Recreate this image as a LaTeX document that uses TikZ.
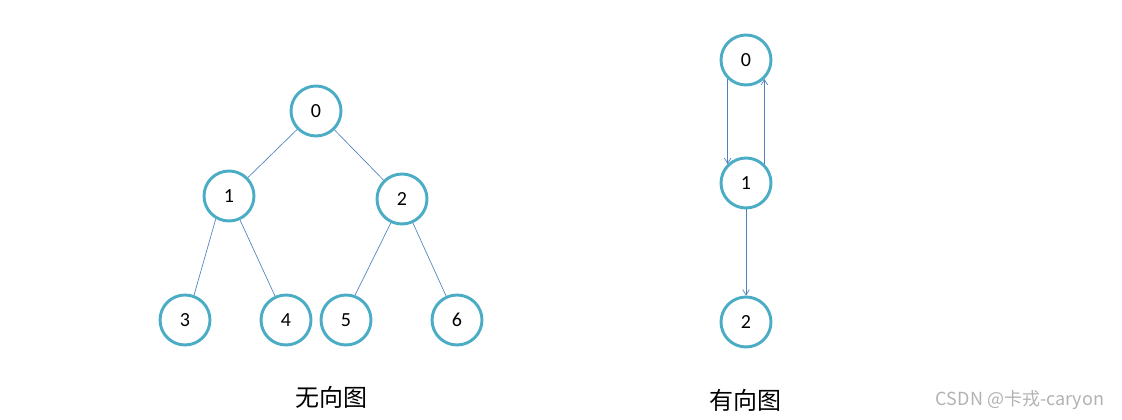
\documentclass[tikz,border=0pt]{standalone}
\usepackage{fontspec}
\setmainfont{Carlito}
\newfontfamily\cjk{Noto Sans CJK SC}
\usetikzlibrary{arrows.meta}
\definecolor{ring}{RGB}{75,172,198}
\definecolor{edge}{RGB}{79,129,189}
\begin{document}
\begin{tikzpicture}[x=0.75pt,y=-0.75pt,
 v/.style={circle,draw=ring,line width=2.2pt,minimum size=50*0.75pt,inner sep=0pt,font=\fontsize{15}{15}\selectfont},
 e/.style={draw=edge,line width=0.5pt},
 a/.style={e,-{Straight Barb[length=4pt,width=5pt]}}]
\useasboundingbox (0,0) rectangle (1122,420);
\node[v] (a0) at (316,111) {0};
\node[v] (a1) at (229,196) {1};
\node[v] (a2) at (402,199) {2};
\node[v] (a3) at (185,320) {3};
\node[v] (a4) at (286,320) {4};
\node[v] (a5) at (346,320) {5};
\node[v] (a6) at (457,320) {6};
\draw[e] (a0)--(a1); \draw[e] (a0)--(a2);
\draw[e] (a1.240)--(a3.70); \draw[e] (a1)--(a4);
\draw[e] (a2.245)--(a5.70); \draw[e] (a2)--(a6);
\node[v] (b0) at (746,60) {0};
\node[v] (b1) at (746,183) {1};
\node[v] (b2) at (746,322) {2};
\draw[a] (b0.226)--(b1.134);
\draw[a] (b1.46)--(b0.314);
\draw[a] (b1)--(b2);
\node[font=\cjk\fontsize{18}{18}\selectfont] (t1) at (331,397) {无向图};
\node[font=\cjk\fontsize{18}{18}\selectfont] (t2) at (745,400) {有向图};
\node[font=\cjk\fontsize{13.5}{13.5}\selectfont,text=black!30] (w) at (1020,400) {CSDN @卡戎-caryon};
\end{tikzpicture}
\end{document}
